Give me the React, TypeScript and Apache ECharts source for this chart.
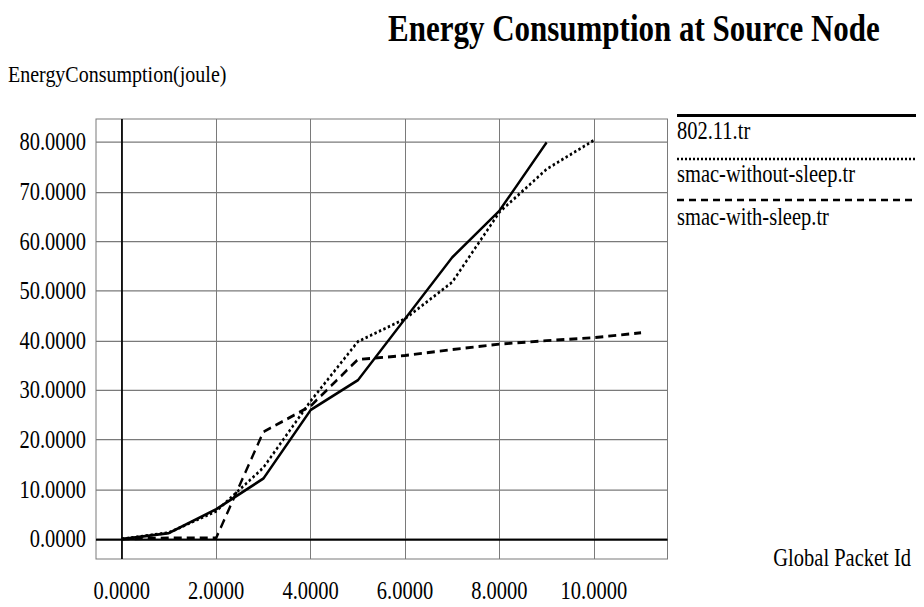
import React, { useEffect, useRef } from "react";
import * as echarts from "echarts";

// ---- data ----
const xTicks = [0, 2, 4, 6, 8, 10];
const yTicks = [0, 10, 20, 30, 40, 50, 60, 70, 80];

const seriesNames = ["802.11.tr", "smac-without-sleep.tr", "smac-with-sleep.tr"];

const packets80211 = [0, 1, 2, 3, 4, 5, 6, 7, 8, 9];
const energy80211 = [0, 1.2, 6.0, 12.2, 26.0, 32.0, 44.4, 56.8, 66.2, 80.0];

const packetsNoSleep = [0, 1, 2, 3, 4, 5, 6, 7, 8, 9, 10];
const energyNoSleep = [0, 1.3, 5.6, 14.4, 27.8, 39.8, 44.4, 51.8, 65.9, 74.6, 80.4];

const packetsSleep = [0, 1, 2, 3, 4, 5, 6, 7, 8, 9, 10, 11];
const energySleep = [0, 0.2, 0.2, 21.6, 26.8, 36.2, 37.0, 38.2, 39.3, 40.0, 40.6, 41.6];

const titleText = "Energy Consumption at Source Node";
const yAxisName = "EnergyConsumption(joule)";
const xAxisName = "Global Packet Id";

// ---- layout (reference is vertically stretched; chart drawn at CH then scaled) ----
const W = 924;
const H = 607;
const CH = 506;
const SY = H / CH;
const FONT = "'Liberation Serif', 'Times New Roman', serif";

const pairs = (xs: number[], ys: number[]) => xs.map((x, i) => [x, ys[i]]);

export default function App() {
  const ref = useRef<HTMLDivElement>(null);

  useEffect(() => {
    if (!ref.current) return;
    const chart = echarts.init(ref.current, undefined, { renderer: "svg" });
    const fmt = (v: number) => v.toFixed(4);
    const lineTypes: any[] = ["solid", [2.4, 2.4], [8, 5]];
    const widths = [2.3, 2.4, 2.4];
    const data = [
      pairs(packets80211, energy80211),
      pairs(packetsNoSleep, energyNoSleep),
      pairs(packetsSleep, energySleep),
    ];
    const legendY = [115.5, 159, 200];
    const legendTextY = [131, 174, 217];

    const option: any = {
      animation: false,
      backgroundColor: "#fff",
      grid: {
        left: 96,
        right: W - 667.5,
        top: 119 / SY,
        bottom: CH - 559 / SY,
        show: true,
        borderColor: "#7a7a7a",
        borderWidth: 1,
      },
      xAxis: {
        type: "value",
        min: -0.545,
        max: 11.56,
        axisLine: { show: false },
        axisTick: { show: false, customValues: xTicks },
        axisLabel: {
          customValues: xTicks,
          formatter: fmt,
          margin: 16,
          fontFamily: FONT,
          fontSize: 20.5,
          color: "#000",
        },
        splitLine: { show: true, lineStyle: { color: "#7a7a7a", width: 1 } },
      },
      yAxis: {
        type: "value",
        min: -4.03,
        max: 84.7,
        axisLine: { show: false },
        axisTick: { show: false, customValues: yTicks },
        axisLabel: {
          customValues: yTicks,
          formatter: fmt,
          margin: 10,
          fontFamily: FONT,
          fontSize: 20.5,
          color: "#000",
        },
        splitLine: { show: true, lineStyle: { color: "#7a7a7a", width: 1 } },
      },
      series: seriesNames.map((name, i) => ({
        name,
        type: "line",
        data: data[i],
        symbol: "none",
        lineStyle: { color: "#000", width: widths[i], type: lineTypes[i] },
        z: 3,
        markLine:
          i === 0
            ? {
                silent: true,
                symbol: "none",
                label: { show: false },
                lineStyle: { color: "#000", width: 1.7, type: "solid" },
                data: [{ xAxis: 0 }, { yAxis: 0 }],
              }
            : undefined,
      })),
      graphic: [
        {
          type: "text",
          left: 388,
          y: 23.7,
          style: {
            text: titleText,
            font: `bold 31px ${FONT}`,
            fill: "#000",
            verticalAlign: "middle",
          },
        },
        {
          type: "text",
          x: 8,
          y: 74 / SY,
          style: {
            text: yAxisName,
            font: `20px ${FONT}`,
            fill: "#000",
            verticalAlign: "middle",
          },
        },
        {
          type: "text",
          x: 911,
          y: 558 / SY,
          style: {
            text: xAxisName,
            font: `20.5px ${FONT}`,
            fill: "#000",
            align: "right",
            verticalAlign: "middle",
          },
        },
        ...seriesNames.map((name, i) => ({
          type: "line",
          shape: { x1: 677, y1: legendY[i] / SY, x2: 916, y2: legendY[i] / SY },
          style: {
            stroke: "#000",
            lineWidth: i === 0 ? 2.5 : 2.1,
            lineDash: i === 0 ? null : i === 1 ? [2, 2] : [7, 5],
          },
        })),
        ...seriesNames.map((name, i) => ({
          type: "text",
          x: 677,
          y: legendTextY[i] / SY,
          style: {
            text: name,
            font: `20.5px ${FONT}`,
            fill: "#000",
            verticalAlign: "middle",
          },
        })),
      ],
    };
    chart.setOption(option);
    return () => chart.dispose();
  }, []);

  return (
    <div
      style={{
        position: "absolute",
        left: 0,
        top: 0,
        width: W,
        height: CH,
        transform: `scaleY(${SY})`,
        transformOrigin: "0 0",
        background: "#fff",
      }}
    >
      <div ref={ref} style={{ width: W, height: CH }} />
    </div>
  );
}
